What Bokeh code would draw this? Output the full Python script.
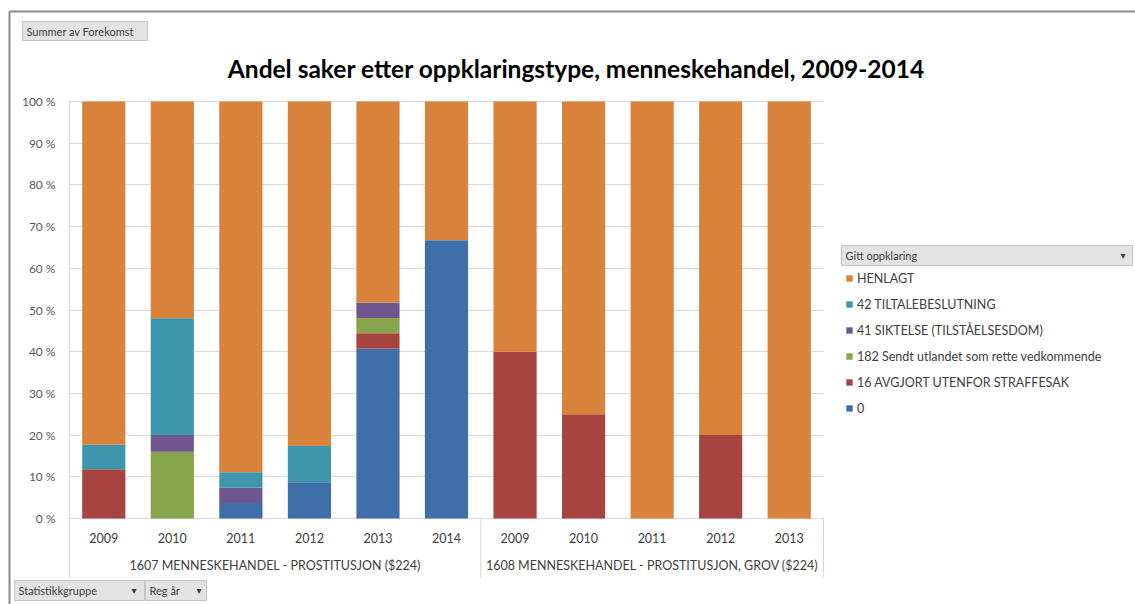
from bokeh.plotting import figure
from bokeh.models import (Range1d, FixedTicker, PrintfTickFormatter, LinearAxis,
                          ColumnDataSource, Legend, LegendItem, Label, Grid)
from bokeh.embed import file_html
from bokeh.resources import INLINE
from bokeh.core.properties import value

# ---------------- data ----------------
title_text = "Andel saker etter oppklaringstype, menneskehandel, 2009-2014"
groups = ["1607 MENNESKEHANDEL - PROSTITUSJON ($224)",
          "1608 MENNESKEHANDEL - PROSTITUSJON, GROV ($224)"]
years_1607 = ["2009", "2010", "2011", "2012", "2013", "2014"]
years_1608 = ["2009", "2010", "2011", "2012", "2013"]

series_keys = ["s0", "s16", "s182", "s41", "s42", "henlagt"]
series_names = ["0", "16 AVGJORT UTENFOR STRAFFESAK",
                "182 Sendt utlandet som rette vedkommende",
                "41 SIKTELSE (TILSTÅELSESDOM)", "42 TILTALEBESLUTNING", "HENLAGT"]
s0 = [0, 0, 3.7, 8.7, 40.7, 66.7, 0, 0, 0, 0, 0]
s16 = [11.8, 0, 0, 0, 3.7, 0, 40, 25, 0, 20, 0]
s182 = [0, 16, 0, 0, 3.7, 0, 0, 0, 0, 0, 0]
s41 = [0, 4, 3.7, 0, 3.7, 0, 0, 0, 0, 0, 0]
s42 = [5.9, 28, 3.7, 8.7, 0, 0, 0, 0, 0, 0, 0]
henlagt = [82.3, 52, 88.9, 82.6, 48.2, 33.3, 60, 75, 100, 80, 100]
colors = ["#3F6FA8", "#A8443F", "#87A54C", "#6F568E", "#3E96AC", "#D9823B"]
y_ticks = [0, 10, 20, 30, 40, 50, 60, 70, 80, 90, 100]

years_all = years_1607 + years_1608
n_cat = len(years_all)
x_pos = [i + 0.5 for i in range(n_cat)]
group_sizes = [len(years_1607), len(years_1608)]
group_centers = [group_sizes[0] / 2, group_sizes[0] + group_sizes[1] / 2]

# ---------------- layout (page pixels -> data) ----------------
FONT = "Lato"
W, H = 1135, 604
PAGE_L, PAGE_T = 0, 0
PLOT_L, PLOT_R = 69, 823        # category area, page px
Y0, Y100 = 518, 101             # 0 % and 100 % lines, page px
CAT_BOTTOM = 577                # bottom of category label box
PX_X = (PLOT_R - PLOT_L) / n_cat
PX_Y = (Y0 - Y100) / 100


def dx(px):
    return (px - PLOT_L) / PX_X


def dy(py):
    return (Y0 - py) / PX_Y


p = figure(width=W, height=H, title=None,
           x_range=Range1d(dx(PAGE_L), dx(PAGE_L + W)),
           y_range=Range1d(dy(PAGE_T + H), dy(PAGE_T)),
           output_backend="svg", toolbar_location=None,
           min_border_left=0, min_border_right=0,
           min_border_top=0, min_border_bottom=0)
p.outline_line_color = None
p.xgrid.visible = False

src = ColumnDataSource(data=dict(x=x_pos, s0=s0, s16=s16, s182=s182,
                                 s41=s41, s42=s42, henlagt=henlagt))
renderers = p.vbar_stack(series_keys, x="x", width=0.63, color=colors,
                         line_width=0, source=src)

# ---- y axis drawn at the left edge of the category area ----
yax = p.yaxis[0]
yax.fixed_location = 0
yax.bounds = (dy(CAT_BOTTOM), 100)
yax.ticker = FixedTicker(ticks=y_ticks)
yax.formatter = PrintfTickFormatter(format="%d %%")
yax.major_tick_line_color = None
yax.minor_tick_line_color = None
yax.axis_line_color = "#D9D9D9"
yax.major_label_standoff = 8
yax.major_label_text_font = FONT
yax.major_label_text_font_size = "12px"
yax.major_label_text_color = "#595959"

# grid lines only over the category area
grid = p.ygrid[0]
grid.ticker = FixedTicker(ticks=y_ticks)
grid.grid_line_color = "#D9D9D9"
if "cross_bounds" in Grid.properties():
    grid.cross_bounds = (0, n_cat)
else:
    grid.visible = False
    p.segment(x0=[0] * len(y_ticks), x1=[n_cat] * len(y_ticks), y0=y_ticks,
              y1=y_ticks, line_color="#D9D9D9", line_width=1)

# ---- category axes: years, then groups ----
xax = p.xaxis[0]
xax.fixed_location = 0
xax.ticker = FixedTicker(ticks=x_pos)
xax.major_label_overrides = {x: y for x, y in zip(x_pos, years_all)}
xax.axis_line_color = None
xax.major_tick_line_color = None
xax.minor_tick_line_color = None
xax.major_label_standoff = 8
xax.major_label_text_font = FONT
xax.major_label_text_font_size = "12.5px"
xax.major_label_text_color = "#404040"

gax = LinearAxis(fixed_location=0, ticker=FixedTicker(ticks=group_centers),
                 major_label_overrides={c: g for c, g in zip(group_centers, groups)},
                 axis_line_color=None, major_tick_line_color=None,
                 minor_tick_line_color=None, major_label_standoff=33,
                 major_label_text_font=FONT, major_label_text_font_size="12.5px",
                 major_label_text_color="#404040")
p.add_layout(gax, "below")

# separators of the category box
sep_x = [group_sizes[0], n_cat]
p.segment(x0=sep_x, x1=sep_x, y0=[0, 0], y1=[dy(CAT_BOTTOM)] * 2,
          line_color="#D9D9D9", line_width=1)

# ---- title ----
p.add_layout(Label(x=dx(576), y=dy(68), text=title_text, text_font=FONT,
                   text_font_size="24.5px", text_font_style="bold",
                   text_color="#000000", text_align="center",
                   text_baseline="middle"))

# ---- legend (top item first) ----
items = [LegendItem(label=series_names[i], renderers=[renderers[i]])
         for i in reversed(range(len(series_keys)))]
legend = Legend(items=items, location=(845 - PAGE_L, H - (268 - PAGE_T) - 150),
                orientation="vertical",
                glyph_width=8, glyph_height=8, label_height=20, spacing=6,
                label_standoff=4, padding=0, margin=0,
                border_line_alpha=0, background_fill_alpha=0,
                label_text_font=FONT, label_text_font_size="12.5px",
                label_text_color="#404040")
p.add_layout(legend, "center")

# ---- pivot-chart field buttons ----
btn_left = [22, 841, 14, 145]
btn_right = [147, 1132, 144, 206]
btn_top = [21, 245, 580, 580]
btn_bottom = [40, 265, 600, 600]
btn_text = ["Summer av Forekomst", "Gitt oppklaring", "Statistikkgruppe", "Reg år"]
btn_arrow_x = [None, 1120, 131, 196]

p.quad(left=[dx(v) for v in btn_left], right=[dx(v) for v in btn_right],
       top=[dy(v) for v in btn_top], bottom=[dy(v) for v in btn_bottom],
       fill_color="#E3E3E3", line_color="#C4C4C4", line_width=1)
p.text(x=[dx(v + 4) for v in btn_left],
       y=[dy((t + b) / 2) for t, b in zip(btn_top, btn_bottom)],
       text=btn_text, text_font=value(FONT), text_font_size="11px",
       text_color="#404040", text_align="left", text_baseline="middle")
arr = [(a, (t + b) / 2) for a, t, b in zip(btn_arrow_x, btn_top, btn_bottom) if a]
p.text(x=[dx(a) for a, _ in arr], y=[dy(c) for _, c in arr],
       text=["▾"] * len(arr), text_font=value("DejaVu Sans"),
       text_font_size="10px", text_color="#404040", text_align="left",
       text_baseline="middle")

# ---- outer chart border (top and left, meeting at the corner) ----
bx, by = 9, 11
p.segment(x0=[dx(bx), dx(bx)], y0=[dy(by), dy(by)],
          x1=[dx(W), dx(bx)], y1=[dy(by), dy(H)],
          line_color="#8C8C8C", line_width=2)

open("out.html", "w").write(file_html(p, INLINE))
